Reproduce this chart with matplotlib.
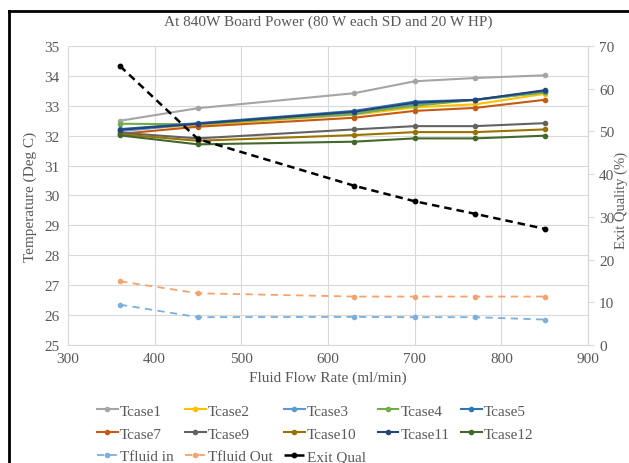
import matplotlib
matplotlib.use("Agg")
import matplotlib.pyplot as plt
from matplotlib.lines import Line2D

plt.rcParams['font.family'] = ['Liberation Serif', 'DejaVu Serif']

flow = [360, 450, 630, 700, 770, 850]

tcase1 = [32.50, 32.92, 33.42, 33.82, 33.93, 34.02]
tcase2 = [32.20, 32.35, 32.70, 32.95, 33.05, 33.40]
tcase3 = [32.15, 32.40, 32.72, 33.05, 33.20, 33.45]
tcase4 = [32.40, 32.38, 32.75, 33.00, 33.20, 33.45]
tcase5 = [32.22, 32.42, 32.83, 33.14, 33.20, 33.50]
tcase7 = [32.06, 32.30, 32.60, 32.83, 32.93, 33.20]
tcase9 = [32.10, 31.91, 32.21, 32.32, 32.32, 32.42]
tcase10 = [32.05, 31.83, 32.02, 32.12, 32.12, 32.21]
tcase11 = [32.20, 32.40, 32.80, 33.10, 33.20, 33.52]
tcase12 = [32.01, 31.71, 31.80, 31.91, 31.91, 32.00]
tfluid_in = [26.35, 25.93, 25.94, 25.93, 25.93, 25.85]
tfluid_out = [27.13, 26.73, 26.62, 26.62, 26.62, 26.62]
exit_qual = [65.3, 48.2, 37.3, 33.65, 30.7, 27.2]

tcase_names = ["Tcase1", "Tcase2", "Tcase3", "Tcase4", "Tcase5",
               "Tcase7", "Tcase9", "Tcase10", "Tcase11", "Tcase12"]
tcase_values = [tcase1, tcase2, tcase3, tcase4, tcase5,
                tcase7, tcase9, tcase10, tcase11, tcase12]
tcase_colors = ["#A5A5A5", "#FFC000", "#5B9BD5", "#70AD47", "#2E75B6",
                "#C55A11", "#636363", "#997300", "#264478", "#43682B"]

title = "At 840W Board Power (80 W each SD and 20 W HP)"
xlabel = "Fluid Flow Rate (ml/min)"
ylabel = "Temperature (Deg C)"
y2label = "Exit Quality (%)"

txt = "#595959"
grid_c = "#D9D9D9"

fig = plt.figure(figsize=(6.29, 4.64), dpi=100)
ax = fig.add_axes([68/629, 1-346/464, (588-68)/629, (346-47)/464])
ax2 = ax.twinx()

handles = {}
for name, vals, col in zip(tcase_names, tcase_values, tcase_colors):
    h, = ax.plot(flow, vals, color=col, lw=1.5, marker='o', ms=3, label=name)
    handles[name] = h
h, = ax.plot(flow, tfluid_in, color="#7CAFDD", lw=1.3, ls=(0, (4, 3)),
             marker='o', ms=3, label="Tfluid in")
handles["Tfluid in"] = h
h, = ax.plot(flow, tfluid_out, color="#F4A36C", lw=1.3, ls=(0, (4, 3)),
             marker='o', ms=3, label="Tfluid Out")
handles["Tfluid Out"] = h
h, = ax2.plot(flow, exit_qual, color="black", lw=1.8, ls=(0, (3, 2)),
              marker='o', ms=3.2, label="Exit Qual")
handles["Exit Qual"] = h

ax.set_xlim(300, 900)
ax.set_ylim(25, 35)
ax2.set_ylim(0, 70)
ax.set_xticks(range(300, 901, 100))
ax.set_yticks(range(25, 36))
ax2.set_yticks(range(0, 71, 10))

ax.grid(True, color=grid_c, lw=0.8)
ax.set_axisbelow(True)
for a in (ax, ax2):
    for s in a.spines.values():
        s.set_color(grid_c)
        s.set_linewidth(0.8)
    a.spines['top'].set_visible(False)
ax2.spines['left'].set_visible(False)
ax2.spines['bottom'].set_visible(False)

ax.tick_params(axis='both', length=0, labelsize=11, colors=txt, pad=6)
ax.tick_params(axis='x', pad=5)
ax2.tick_params(axis='y', length=4, labelsize=11, colors=txt, color=grid_c, pad=4)

ax.set_title(title, fontsize=11, color=txt, pad=15)
ax.set_xlabel(xlabel, fontsize=11, color=txt, labelpad=4)
ax.set_ylabel(ylabel, fontsize=11, color=txt, labelpad=5)
fig.text(621/629, 1-200/464, y2label, rotation=90, ha='center', va='center',
         fontsize=10.5, color=txt)

order = ["Tcase1", "Tcase7", "Tfluid in",
         "Tcase2", "Tcase9", "Tfluid Out",
         "Tcase3", "Tcase10", "Exit Qual",
         "Tcase4", "Tcase11",
         "Tcase5", "Tcase12"]
leg = fig.legend([handles[n] for n in order], order, ncol=5,
                 loc='upper left', bbox_to_anchor=(97/629, 1-405/464),
                 frameon=False, fontsize=11, handlelength=1.35,
                 handletextpad=0.15, columnspacing=0.75, labelspacing=0.6,
                 borderaxespad=0, borderpad=0)
for t in leg.get_texts():
    t.set_color(txt)

# image frame border
fig.add_artist(Line2D([9/629, 9/629], [0, 1-12/464], transform=fig.transFigure,
                      color='black', lw=2))
fig.add_artist(Line2D([9/629, 1], [1-12/464, 1-12/464], transform=fig.transFigure,
                      color='black', lw=2))

fig.savefig("out.png", dpi=100)
